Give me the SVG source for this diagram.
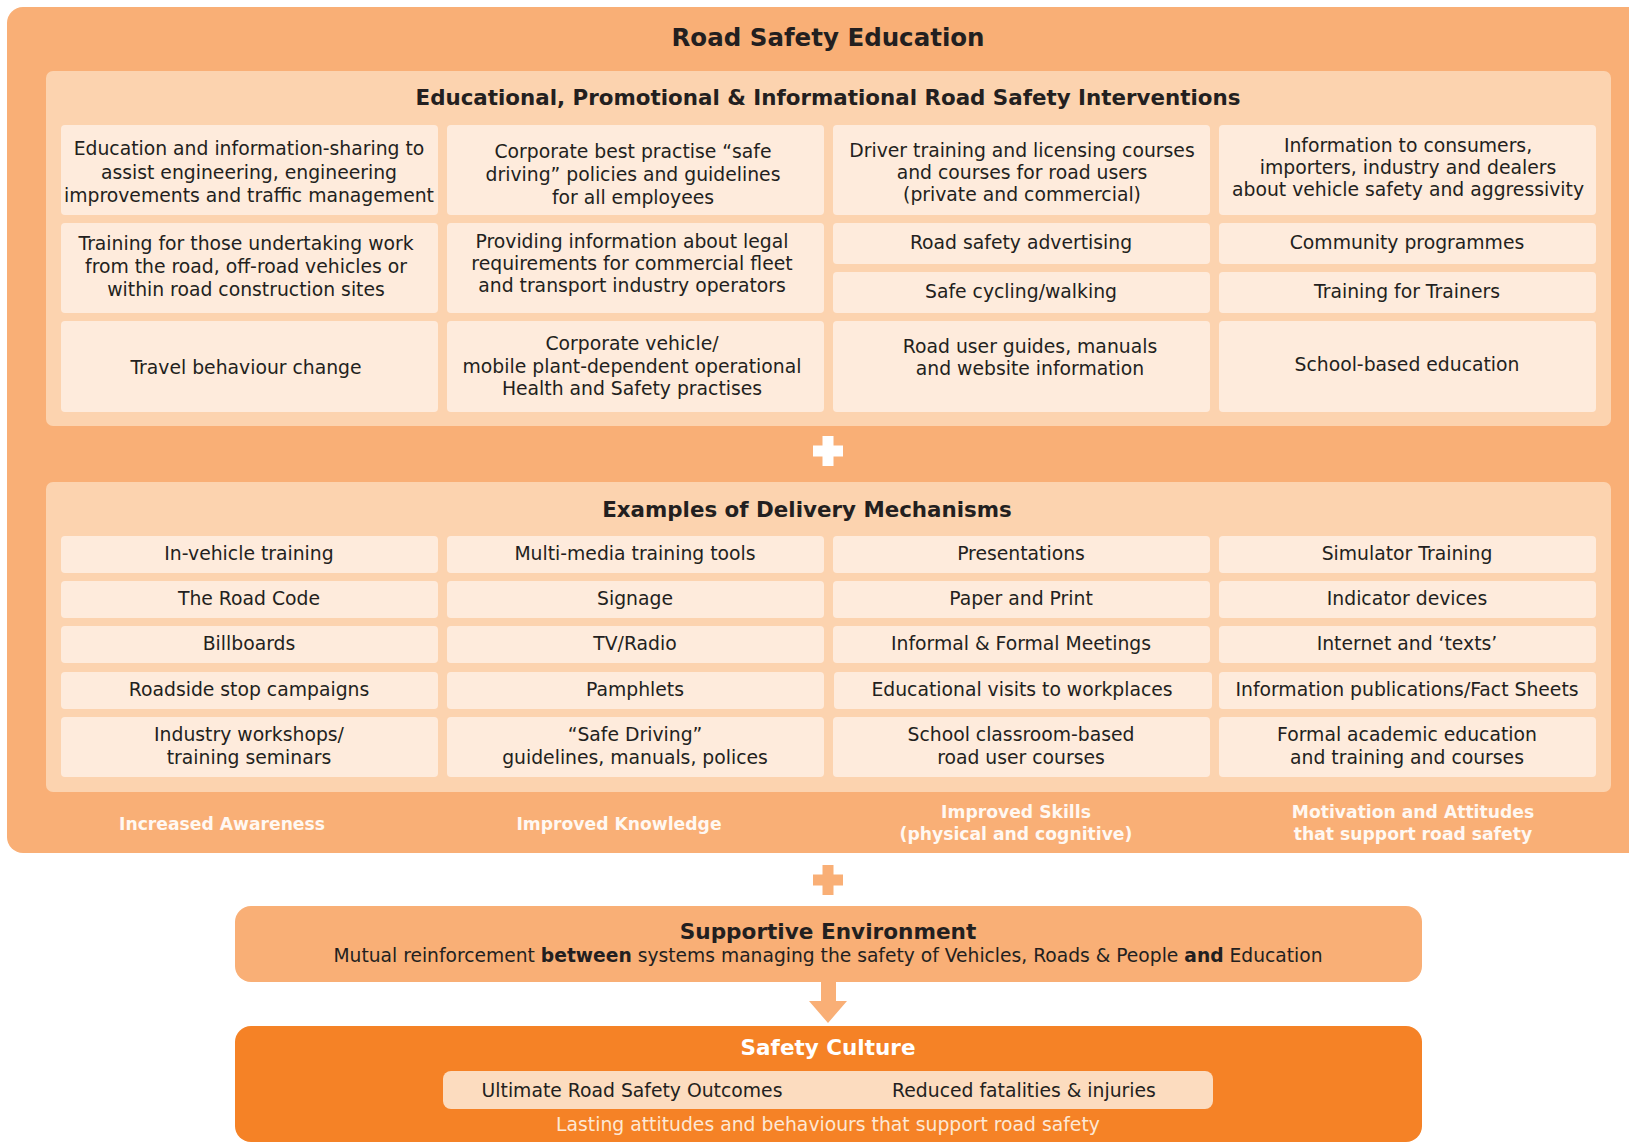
<svg xmlns="http://www.w3.org/2000/svg" width="1629" height="1143" viewBox="0 0 1629 1143">
  <style>
    .outer { fill: #F9AF76; }
    .panel { fill: #FCD3AF; }
    .cell { fill: #FEEBDC; }
    .culture { fill: #F58226; }
    .outcome { fill: #FCDCBF; }
    text { font-family: "DejaVu Sans", "Liberation Sans", sans-serif; text-anchor: middle; }
    .t { font-size: 18.8px; fill: #231F20; }
    .h1 { font-size: 24.5px; font-weight: bold; fill: #231F20; }
    .h2 { font-size: 21.4px; font-weight: bold; fill: #231F20; }
    .lbl { font-size: 17.2px; font-weight: bold; fill: #FFF8F2; }
    .hw { font-size: 21.5px; font-weight: bold; fill: #FFFFFF; }
    .note { font-size: 18.8px; fill: #FDE8D4; }
    .b { font-weight: bold; }
  </style>

  <!-- Road Safety Education container -->
  <g id="road-safety-education">
    <rect class="outer" x="7" y="7" width="1640" height="846" rx="16"/>
    <text class="h1" x="828" y="46">Road Safety Education</text>
  </g>

  <!-- Interventions panel -->
  <g id="interventions">
    <rect class="panel" x="46" y="71" width="1565" height="355" rx="7"/>
    <text class="h2" x="828" y="105">Educational, Promotional &amp; Informational Road Safety Interventions</text>
  </g>

  <g id="i-engineering">
    <rect class="cell" x="61" y="125" width="377" height="90" rx="4"/>
    <text class="t" x="249" y="155">Education and information-sharing to</text>
    <text class="t" x="249" y="178.5">assist engineering, engineering</text>
    <text class="t" x="249" y="202">improvements and traffic management</text>
  </g>
  <g id="i-corporate-policies">
    <rect class="cell" x="447" y="125" width="377" height="90" rx="4"/>
    <text class="t" x="633" y="158">Corporate best practise “safe</text>
    <text class="t" x="633" y="181">driving” policies and guidelines</text>
    <text class="t" x="633" y="204">for all employees</text>
  </g>
  <g id="i-driver-training">
    <rect class="cell" x="833" y="125" width="377" height="90" rx="4"/>
    <text class="t" x="1022" y="157">Driver training and licensing courses</text>
    <text class="t" x="1022" y="179">and courses for road users</text>
    <text class="t" x="1022" y="201">(private and commercial)</text>
  </g>
  <g id="i-consumer-info">
    <rect class="cell" x="1219" y="125" width="377" height="90" rx="4"/>
    <text class="t" x="1408" y="152">Information to consumers,</text>
    <text class="t" x="1408" y="174">importers, industry and dealers</text>
    <text class="t" x="1408" y="196">about vehicle safety and aggressivity</text>
  </g>

  <g id="i-road-work">
    <rect class="cell" x="61" y="223" width="377" height="90" rx="4"/>
    <text class="t" x="246" y="250">Training for those undertaking work</text>
    <text class="t" x="246" y="273">from the road, off-road vehicles or</text>
    <text class="t" x="246" y="296">within road construction sites</text>
  </g>
  <g id="i-legal-requirements">
    <rect class="cell" x="447" y="223" width="377" height="90" rx="4"/>
    <text class="t" x="632" y="248">Providing information about legal</text>
    <text class="t" x="632" y="270">requirements for commercial fleet</text>
    <text class="t" x="632" y="292">and transport industry operators</text>
  </g>
  <g id="i-advertising">
    <rect class="cell" x="833" y="223" width="377" height="41" rx="4"/>
    <text class="t" x="1021" y="249">Road safety advertising</text>
  </g>
  <g id="i-cycling-walking">
    <rect class="cell" x="833" y="272" width="377" height="41" rx="4"/>
    <text class="t" x="1021" y="298">Safe cycling/walking</text>
  </g>
  <g id="i-community">
    <rect class="cell" x="1219" y="223" width="377" height="41" rx="4"/>
    <text class="t" x="1407" y="249">Community programmes</text>
  </g>
  <g id="i-trainers">
    <rect class="cell" x="1219" y="272" width="377" height="41" rx="4"/>
    <text class="t" x="1407" y="298">Training for Trainers</text>
  </g>

  <g id="i-travel-behaviour">
    <rect class="cell" x="61" y="321" width="377" height="91" rx="4"/>
    <text class="t" x="246" y="374">Travel behaviour change</text>
  </g>
  <g id="i-corporate-vehicle">
    <rect class="cell" x="447" y="321" width="377" height="91" rx="4"/>
    <text class="t" x="632" y="350">Corporate vehicle/</text>
    <text class="t" x="632" y="372.5">mobile plant-dependent operational</text>
    <text class="t" x="632" y="395">Health and Safety practises</text>
  </g>
  <g id="i-user-guides">
    <rect class="cell" x="833" y="321" width="377" height="91" rx="4"/>
    <text class="t" x="1030" y="352.5">Road user guides, manuals</text>
    <text class="t" x="1030" y="375">and website information</text>
  </g>
  <g id="i-school">
    <rect class="cell" x="1219" y="321" width="377" height="91" rx="4"/>
    <text class="t" x="1407" y="370.5">School-based education</text>
  </g>

  <!-- Delivery mechanisms panel -->
  <g id="delivery-mechanisms">
    <rect class="panel" x="46" y="482" width="1565" height="310" rx="7"/>
    <text class="h2" x="807" y="516.5">Examples of Delivery Mechanisms</text>
  </g>

  <g id="d-row1">
    <rect class="cell" x="61" y="536" width="377" height="37" rx="4"/>
    <text class="t" x="249" y="560">In-vehicle training</text>
    <rect class="cell" x="447" y="536" width="377" height="37" rx="4"/>
    <text class="t" x="635" y="560">Multi-media training tools</text>
    <rect class="cell" x="833" y="536" width="377" height="37" rx="4"/>
    <text class="t" x="1021" y="560">Presentations</text>
    <rect class="cell" x="1219" y="536" width="377" height="37" rx="4"/>
    <text class="t" x="1407" y="560">Simulator Training</text>
  </g>
  <g id="d-row2">
    <rect class="cell" x="61" y="581" width="377" height="37" rx="4"/>
    <text class="t" x="249" y="605">The Road Code</text>
    <rect class="cell" x="447" y="581" width="377" height="37" rx="4"/>
    <text class="t" x="635" y="605">Signage</text>
    <rect class="cell" x="833" y="581" width="377" height="37" rx="4"/>
    <text class="t" x="1021" y="605">Paper and Print</text>
    <rect class="cell" x="1219" y="581" width="377" height="37" rx="4"/>
    <text class="t" x="1407" y="605">Indicator devices</text>
  </g>
  <g id="d-row3">
    <rect class="cell" x="61" y="626" width="377" height="37" rx="4"/>
    <text class="t" x="249" y="650">Billboards</text>
    <rect class="cell" x="447" y="626" width="377" height="37" rx="4"/>
    <text class="t" x="635" y="650">TV/Radio</text>
    <rect class="cell" x="833" y="626" width="377" height="37" rx="4"/>
    <text class="t" x="1021" y="650">Informal &amp; Formal Meetings</text>
    <rect class="cell" x="1219" y="626" width="377" height="37" rx="4"/>
    <text class="t" x="1407" y="650">Internet and ‘texts’</text>
  </g>
  <g id="d-row4">
    <rect class="cell" x="61" y="672" width="377" height="37" rx="4"/>
    <text class="t" x="249" y="696">Roadside stop campaigns</text>
    <rect class="cell" x="447" y="672" width="377" height="37" rx="4"/>
    <text class="t" x="635" y="696">Pamphlets</text>
    <rect class="cell" x="834" y="672" width="378" height="37" rx="4"/>
    <text class="t" x="1022" y="696">Educational visits to workplaces</text>
    <rect class="cell" x="1219" y="672" width="377" height="37" rx="4"/>
    <text class="t" x="1407" y="696">Information publications/Fact Sheets</text>
  </g>
  <g id="d-row5">
    <rect class="cell" x="61" y="717" width="377" height="60" rx="4"/>
    <text class="t" x="249" y="740.5">Industry workshops/</text>
    <text class="t" x="249" y="764">training seminars</text>
    <rect class="cell" x="447" y="717" width="377" height="60" rx="4"/>
    <text class="t" x="635" y="740.5">“Safe Driving”</text>
    <text class="t" x="635" y="764">guidelines, manuals, polices</text>
    <rect class="cell" x="833" y="717" width="377" height="60" rx="4"/>
    <text class="t" x="1021" y="740.5">School classroom-based</text>
    <text class="t" x="1021" y="764">road user courses</text>
    <rect class="cell" x="1219" y="717" width="377" height="60" rx="4"/>
    <text class="t" x="1407" y="740.5">Formal academic education</text>
    <text class="t" x="1407" y="764">and training and courses</text>
  </g>

  <!-- Outcome labels along the container base -->
  <g id="outcome-labels">
    <text class="lbl" x="222" y="829.5">Increased Awareness</text>
    <text class="lbl" x="619" y="829.5">Improved Knowledge</text>
    <text class="lbl" x="1016" y="817.5">Improved Skills</text>
    <text class="lbl" x="1016" y="839.5">(physical and cognitive)</text>
    <text class="lbl" x="1413" y="817.5">Motivation and Attitudes</text>
    <text class="lbl" x="1413" y="839.5">that support road safety</text>
  </g>

  <!-- Supportive Environment -->
  <g id="supportive-environment">
    <rect class="outer" x="235" y="906" width="1187" height="76" rx="16"/>
    <text class="h2" x="828" y="938.5" style="font-size:21.6px">Supportive Environment</text>
    <text class="t" x="828" y="961.5" style="font-size:18.7px">Mutual reinforcement <tspan class="b">between</tspan> systems managing the safety of Vehicles, Roads &amp; People <tspan class="b">and</tspan> Education</text>
  </g>

  <!-- Safety Culture -->
  <g id="safety-culture">
    <rect class="culture" x="235" y="1026" width="1187" height="116" rx="16"/>
    <text class="hw" x="828" y="1054.5">Safety Culture</text>
    <rect class="outcome" x="443" y="1071" width="770" height="38" rx="8"/>
    <text class="t" x="632" y="1096.5">Ultimate Road Safety Outcomes</text>
    <text class="t" x="1024" y="1096.5">Reduced fatalities &amp; injuries</text>
    <text class="note" x="828" y="1131">Lasting attitudes and behaviours that support road safety</text>
  </g>

  <!-- Connectors: plus signs and the flow arrow -->
  <g id="connectors">
    <path d="M822.5 436h11v9.5h9.5v11h-9.5v9.5h-11v-9.5h-9.5v-11h9.5z" fill="#FFFFFF"/>
    <path d="M822.5 865h11v9.5h9.5v11h-9.5v9.5h-11v-9.5h-9.5v-11h9.5z" fill="#F9AF76"/>
    <path d="M821 981h15v20h11l-19 22l-19-22h12z" fill="#F9AF76"/>
  </g>
</svg>
